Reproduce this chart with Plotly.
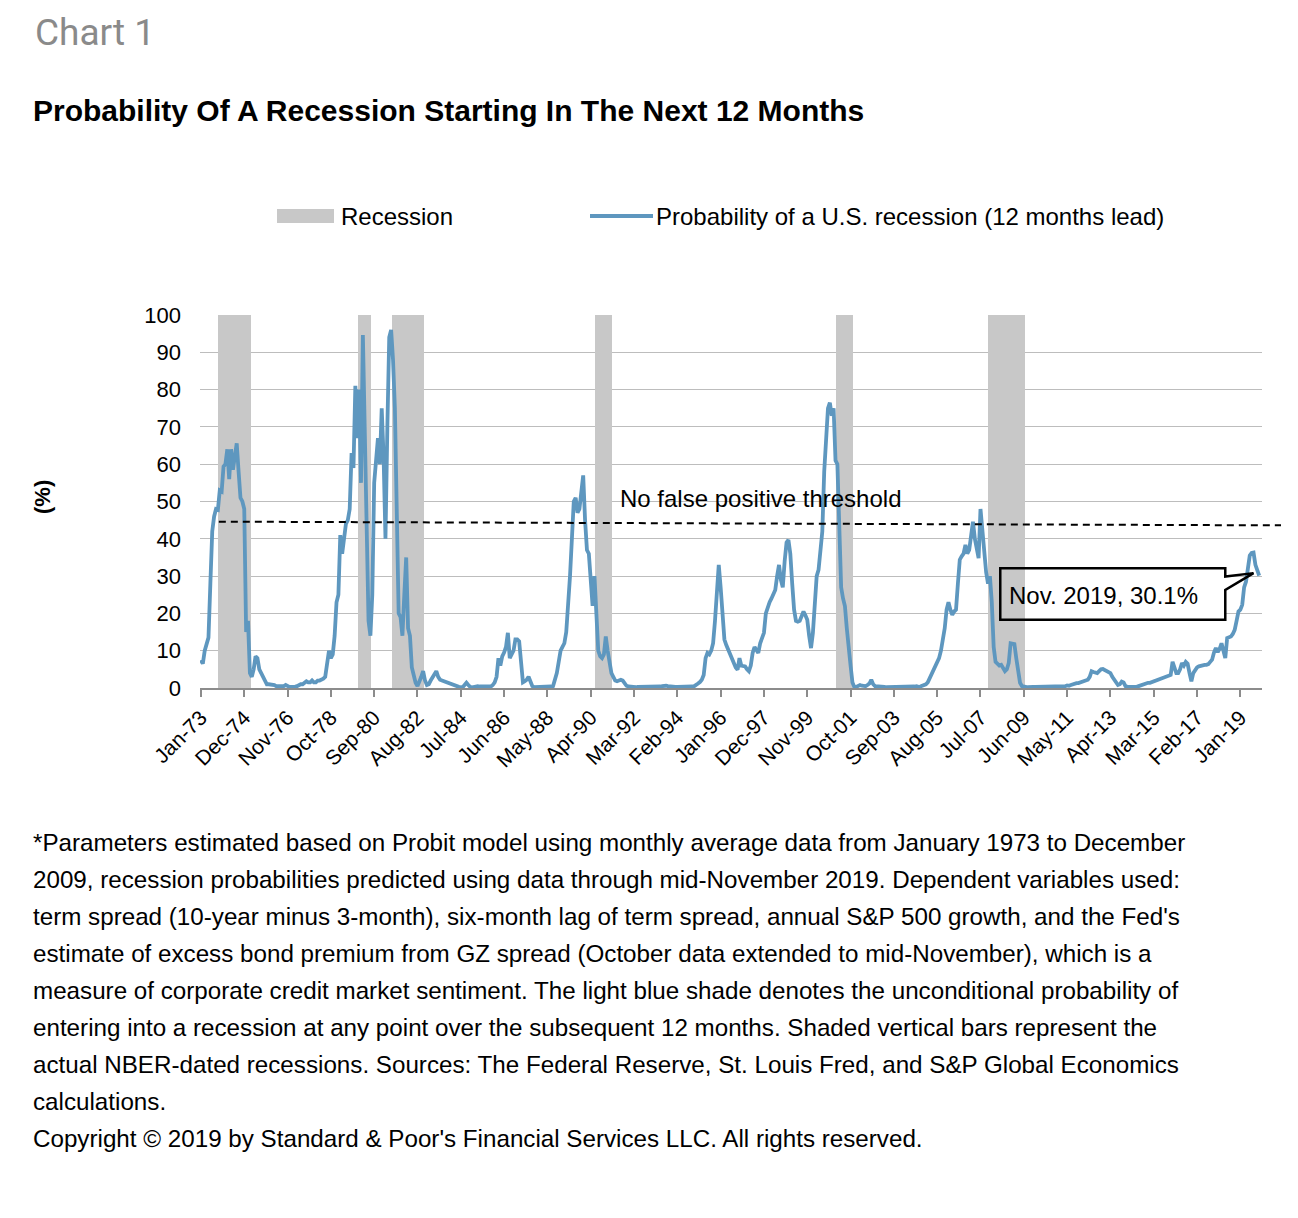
import plotly.graph_objects as go

# ---------------- data ----------------
start_year = 1973
prob_1973_1979 = [
    7.5, 6.5, 10, 11.5, 13.5, 28, 42, 46, 48, 47.8, 53, 52.7,
    59.4, 60, 64, 56, 64, 58.5, 62, 65.6, 58, 51, 50, 48,
    15, 18, 4, 3, 5, 8.5, 8, 5, 4, 3, 1.5, 1,
    1, 1, 0.8, 0.8, 0.5, 0.5, 0.5, 0.3, 0.5, 0.8, 0.5, 0.3,
    0.3, 0.2, 0.3, 0.5, 0.8, 1, 1, 1.5, 1.8, 1.5, 1.5, 2,
    1.5, 1.5, 2, 2, 2.2, 2.5, 3, 6, 10, 8, 9, 14,
    23, 25, 41, 36, 41, 44, 45, 48, 63, 59, 81, 67,
]
prob_1980s = [
    80, 55, 94.6, 66, 45, 18, 14, 25, 55, 62, 67, 60,
    75, 62, 40, 70, 94, 96, 88, 75, 48, 20, 19, 14,
    25, 35, 16, 14, 5.5, 3.5, 1.4, 0.5, 1.5, 3, 4.5, 2,
    0.8, 1, 2, 3, 4, 4.5, 3, 2.2, 2, 1.8, 1.5, 1.4,
    1.2, 1, 0.8, 0.6, 0.5, 0.3, 0.2, 0.2, 0.8, 1.4, 0.8, 0.3,
    0.2, 0.3, 0.5, 0.5, 0.4, 0.3, 0.4, 0.4, 0.4, 0.3, 0.4, 0.8,
    1.5, 3, 8, 6, 8.5, 9.5, 11, 14.8, 8, 9, 10, 13,
    13, 12.5, 6, 1.5, 1.8, 2.2, 3, 2, 0.5, 0.2, 0.2, 0.3,
    0.3, 0.4, 0.4, 0.3, 0.3, 0.4, 0.4, 0.5, 2, 4, 7, 10,
    11, 12, 15, 22, 30, 40, 50, 51, 47, 48, 53, 57,
]
prob_1990s = [
    45, 37, 36, 30, 22, 30, 20, 10, 8.5, 8, 9, 13.8,
    10, 6, 4, 3, 2, 1.8, 2, 2.2, 2, 1.2, 0.6, 0.4,
    0.3, 0.3, 0.2, 0.2, 0.3, 0.3, 0.2, 0.2, 0.3, 0.3, 0.3, 0.3,
    0.3, 0.3, 0.3, 0.3, 0.4, 0.5, 0.6, 0.6, 0.5, 0.4, 0.3, 0.3,
    0.3, 0.3, 0.3, 0.3, 0.3, 0.2, 0.2, 0.3, 0.3, 0.4, 0.5, 1,
    1.2, 1.6, 2.2, 3.5, 8, 9.4, 9, 10, 12, 18, 28, 33,
    27, 20, 13, 11.5, 10.3, 9, 8, 7, 5.5, 4.9, 8, 6,
    5.8, 5.8, 5, 4.5, 6, 9.4, 11, 10, 9.4, 12, 13.5, 14.8,
    20, 22, 23, 24, 25, 26.3, 30, 33, 29, 27, 34, 39,
    39.7, 36, 28, 21, 18, 17.8, 18, 19, 20.5, 19.5, 18.3, 14,
]
prob_2000s = [
    10.7, 14.8, 22, 30, 31.7, 36, 42, 58, 66, 75, 76.5, 73,
    75, 61, 60, 45, 27, 24, 22, 16, 12, 6, 1.5, 0.3,
    0.3, 0.5, 0.8, 0.6, 0.5, 0.5, 0.8, 1.2, 2.2, 1, 0.5, 0.5,
    0.4, 0.3, 0.3, 0.3, 0.2, 0.2, 0.2, 0.3, 0.3, 0.2, 0.2, 0.3,
    0.3, 0.3, 0.3, 0.4, 0.3, 0.3, 0.4, 0.4, 0.5, 0.3, 0.4, 0.6,
    0.8, 1, 1.5, 2.5, 3.5, 4.5, 5.8, 7, 8, 10, 13, 16,
    21, 23, 21, 19.6, 20.5, 21, 28, 34.4, 35.3, 36, 38.4, 36,
    37, 41, 44.6, 40, 37, 34.8, 48, 42, 38, 31, 28, 30,
    23, 11, 7, 6.5, 6, 6.2, 5.5, 4.5, 5, 6.7, 12, 12,
    11.8, 8, 4, 1.4, 0.5, 0.3, 0.3, 0.2, 0.3, 0.3, 0.3, 0.3,
]
prob_2010s = [
    0.3, 0.3, 0.3, 0.3, 0.3, 0.4, 0.3, 0.3, 0.4, 0.5, 0.4, 0.3,
    0.3, 0.4, 0.5, 0.5, 0.7, 0.6, 0.8, 1, 1.2, 1.3, 1.3, 1.5,
    1.6, 1.7, 2, 2.2, 3, 4.5, 4.3, 4.2, 4, 4.5, 5, 5.1,
    4.8, 4.5, 4.2, 4, 3, 2.2, 1.5, 0.8, 1, 1.7, 1.5, 0.5,
    0.3, 0.3, 0.2, 0.3, 0.3, 0.3, 0.5, 0.7, 0.8, 1, 1.2, 1.4,
    1.4, 1.6, 1.8, 2, 2.2, 2.4, 2.6, 2.8, 2.8, 3, 3.3, 3.5,
    7, 5, 4, 4, 5, 6.7, 6, 7, 6.5, 4, 1.8, 4,
    4.9, 5.5, 5.8, 6, 6.2, 6.2, 6.2, 6.4, 7, 7.6, 9.5, 10.7,
    9.6, 10.5, 12, 10, 8, 13.4, 13.5, 13.8, 14.5, 15.6, 18, 20.5,
    21, 22.3, 27, 28.5, 32, 35.5, 36.2, 36.3, 33, 31.5, 30.1,
]
recessions = [
    ("1973-11", "1975-03"),
    ("1980-01", "1980-07"),
    ("1981-07", "1982-11"),
    ("1990-07", "1991-03"),
    ("2001-03", "2001-11"),
    ("2007-12", "2009-06"),
]
tick_labels = ["Jan-73", "Dec-74", "Nov-76", "Oct-78", "Sep-80", "Aug-82", "Jul-84",
               "Jun-86", "May-88", "Apr-90", "Mar-92", "Feb-94", "Jan-96", "Dec-97",
               "Nov-99", "Oct-01", "Sep-03", "Aug-05", "Jul-07", "Jun-09", "May-11",
               "Apr-13", "Mar-15", "Feb-17", "Jan-19"]
tick_step = 23
threshold_level = (44.6, 43.6)
callout_label = "Nov. 2019"

footnote_lines = [
    "*Parameters estimated based on Probit model using monthly average data from January 1973 to December",
    "2009, recession probabilities predicted using data through mid-November 2019. Dependent variables used:",
    "term spread (10-year minus 3-month), six-month lag of term spread, annual S&amp;P 500 growth, and the Fed's",
    "estimate of excess bond premium from GZ spread (October data extended to mid-November), which is a",
    "measure of corporate credit market sentiment. The light blue shade denotes the unconditional probability of",
    "entering into a recession at any point over the subsequent 12 months. Shaded vertical bars represent the",
    "actual NBER-dated recessions. Sources: The Federal Reserve, St. Louis Fred, and S&amp;P Global Economics",
    "calculations.",
    "Copyright © 2019 by Standard &amp; Poor's Financial Services LLC. All rights reserved.",
]

# ---------------- build ----------------
prob = prob_1973_1979 + prob_1980s + prob_1990s + prob_2000s + prob_2010s
months = list(range(len(prob)))


def month_index(s):
    y, m = s.split("-")
    return (int(y) - start_year) * 12 + int(m) - 1


rec_x = []
for a, b in recessions:
    rec_x.extend(range(month_index(a), month_index(b) + 1))
rec_y = [100] * len(rec_x)

FONT = "Liberation Sans, Arial, Helvetica, sans-serif"
LINE_COLOR = "#5e97bf"
GRAY = "#c8c8c8"

fig = go.Figure()
fig.add_trace(go.Bar(x=rec_x, y=rec_y, width=1.0, marker=dict(color=GRAY, line=dict(width=0)),
                     name="Recession", hoverinfo="skip"))
fig.add_trace(go.Scatter(x=months, y=prob, mode="lines", line=dict(color=LINE_COLOR, width=3.8),
                         name="Probability of a U.S. recession (12 months lead)"))

x_lo, x_hi = -0.5, len(prob) + 0.5
L, R, T, B = 200, 36, 315, 530
W, H = 1298, 1218
pw = W - L - R
ph = H - T - B


def px(xpix):
    return (xpix - L) / pw


def py(ypix):
    return (H - B - ypix) / ph


def mx(m):
    return (m - x_lo) / (x_hi - x_lo)


# threshold dashed line (extends slightly past the plot on the right)
thr_start = month_index(recessions[0][0]) - 0.5
fig.add_shape(type="line", xref="paper", yref="paper",
              x0=mx(thr_start), x1=px(1281), y0=threshold_level[0] / 100, y1=threshold_level[1] / 100,
              line=dict(color="black", width=2, dash="7px,5px"), layer="above")
fig.add_annotation(x=px(618), y=py(498), xref="paper", yref="paper", xanchor="left", yanchor="middle",
                   text="No false positive threshold", showarrow=False,
                   font=dict(family=FONT, size=24, color="black"))

# callout box
last_i = len(prob) - 1
last_v = prob[-1]
bx0, bx1, by0, by1 = 424.5, 544, 18.3, 32.1
tip_x, tip_y = last_i - 3, last_v + 0.7
fig.add_shape(type="rect", xref="x", yref="y", x0=bx0, x1=bx1, y0=by0, y1=by1,
              fillcolor="white", line=dict(width=0), layer="between")
path = (f"M {bx0},{by1} L {bx1},{by1} L {bx1},{by1 - 2.2} L {tip_x},{tip_y} "
        f"L {bx1},{by1 - 5.8} L {bx1},{by0} L {bx0},{by0} Z")
fig.add_shape(type="path", xref="x", yref="y", path=path,
              line=dict(color="black", width=2.5), fillcolor="rgba(0,0,0,0)", layer="above")
fig.add_annotation(x=bx0 + 3.5, y=(by0 + by1) / 2 - 0.5, xref="x", yref="y", xanchor="left",
                   text=f"{callout_label}, {last_v}%", showarrow=False,
                   font=dict(family=FONT, size=24, color="black"))

# custom legend
fig.add_shape(type="rect", xref="paper", yref="paper", x0=px(277), x1=px(334), y0=py(223), y1=py(209),
              fillcolor=GRAY, line=dict(width=0))
fig.add_annotation(x=px(339), y=py(216), xref="paper", yref="paper", xanchor="left", yanchor="middle",
                   text="Recession", showarrow=False, font=dict(family=FONT, size=24, color="black"))
fig.add_shape(type="line", xref="paper", yref="paper", x0=px(590), x1=px(653), y0=py(216), y1=py(216),
              line=dict(color=LINE_COLOR, width=4))
fig.add_annotation(x=px(654), y=py(216), xref="paper", yref="paper", xanchor="left", yanchor="middle",
                   text="Probability of a U.S. recession (12 months lead)", showarrow=False,
                   font=dict(family=FONT, size=24, color="black"))

# titles
fig.add_annotation(x=px(33), y=py(32), xref="paper", yref="paper", xanchor="left", yanchor="middle",
                   text="Chart 1", showarrow=False,
                   font=dict(family="Roboto, Liberation Sans, sans-serif", size=37, color="#8a8a8a"))
fig.add_annotation(x=px(31), y=py(110), xref="paper", yref="paper", xanchor="left", yanchor="middle",
                   text="<b>Probability Of A Recession Starting In The Next 12 Months</b>", showarrow=False,
                   font=dict(family=FONT, size=30, color="black"))
fig.add_annotation(x=px(42), y=py(497), xref="paper", yref="paper", xanchor="center", yanchor="middle",
                   text="<b>(%)</b>", textangle=-90, showarrow=False,
                   font=dict(family=FONT, size=22, color="black"))

# footnotes
for i, line in enumerate(footnote_lines):
    fig.add_annotation(x=px(31), y=py(842 + 37 * i), xref="paper", yref="paper", xanchor="left",
                       yanchor="middle", text=line, showarrow=False,
                       font=dict(family=FONT, size=24.2, color="black"))

fig.update_layout(
    width=W, height=H, autosize=False,
    margin=dict(l=L, r=R, t=T, b=B, pad=0),
    paper_bgcolor="white", plot_bgcolor="white",
    showlegend=False, bargap=0,
    font=dict(family=FONT, color="black"),
)
fig.update_xaxes(range=[x_lo, x_hi], tickmode="array",
                 tickvals=[i * tick_step for i in range(len(tick_labels))], ticktext=tick_labels,
                 tickangle=-45, ticks="outside", ticklen=7, tickwidth=2, tickcolor="#8c8c8c",
                 showline=True, linecolor="#8c8c8c", linewidth=2, showgrid=False, zeroline=False,
                 tickfont=dict(family=FONT, size=21, color="black"))
fig.update_yaxes(range=[0, 100], dtick=10, showgrid=True, gridcolor="#bdbdbd", gridwidth=1,
                 showline=False, zeroline=False, ticks="", ticklabelstandoff=18,
                 tickfont=dict(family=FONT, size=22, color="black"))

fig.write_html("out.html", config={"displayModeBar": False},
               post_script="document.body.style.margin='0';")
